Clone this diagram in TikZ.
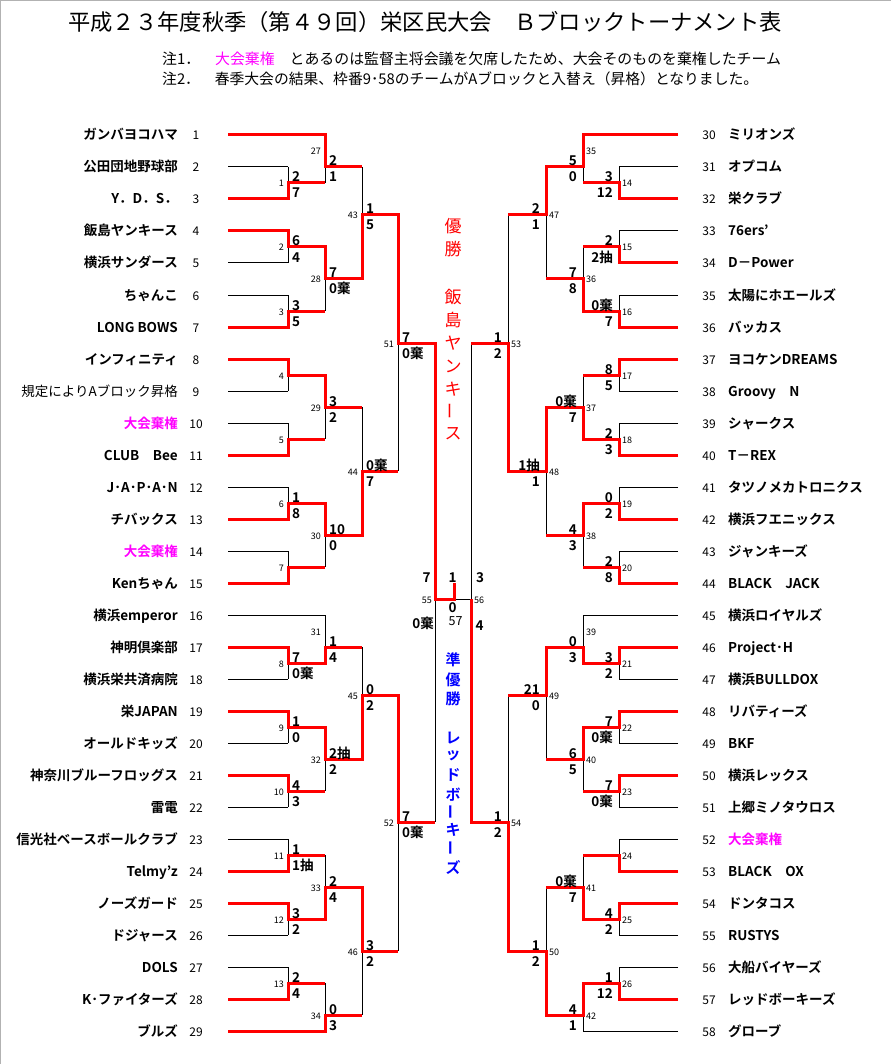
\documentclass[tikz,border=0pt]{standalone}
\usepackage{fontspec}
\setmainfont{Noto Sans CJK JP}[BoldFont={Noto Sans CJK JP Bold}]
\definecolor{mag}{RGB}{255,0,255}
\definecolor{rd}{RGB}{255,0,0}
\definecolor{bl}{RGB}{0,0,255}
\tikzset{
 bk/.style={line width=1pt, black},
 win/.style={line width=3pt, rd, line join=miter},
 sc/.style={font=\fontsize{13.5}{13.5}\selectfont\bfseries, inner sep=0pt},
 mn/.style={font=\fontsize{9}{9}\selectfont, inner sep=0pt},
 tn/.style={font=\fontsize{13.5}{13.5}\selectfont\bfseries, inner sep=0pt},
 tnum/.style={font=\fontsize{12}{12}\selectfont, inner sep=0pt},
 vred/.style={font=\fontsize{17}{17}\selectfont, text=rd, inner sep=0pt},
 vblue/.style={font=\fontsize{15}{15}\selectfont\bfseries, text=bl, inner sep=0pt},
}
\newcommand\bmatch[5]{\draw[bk] (#1,#2) -- (#1,#3); \draw[bk] (#1,#4) -- (#5,#4);}
\newcommand\lsc[4]{\node[sc,anchor=base west] at (#1+4,#2-1) {#3}; \node[sc,anchor=base west] at (#1+4,#2+15) {#4};}
\newcommand\rsc[4]{\node[sc,anchor=base east] at (#1-6,#2-1) {#3}; \node[sc,anchor=base east] at (#1-6,#2+15) {#4};}
\newcommand\lnum[3]{\node[mn,anchor=base east] at (#1-4,#2+4) {#3};}
\newcommand\rnum[3]{\node[mn,anchor=base west] at (#1+3,#2+4) {#3};}
\newcommand\lteam[3]{\node[tn,anchor=base east] at (178,#1+5) {#3}; \node[tnum,anchor=base] at (196,#1+5) {#2};}
\newcommand\rteam[3]{\node[tn,anchor=base west] at (728,#1+5) {#3}; \node[tnum,anchor=base] at (709,#1+5) {#2};}
\begin{document}
\begin{tikzpicture}[x=1pt,y=-1pt]
\useasboundingbox (0,0) rectangle (891,1064);
\fill[white] (0,0) rectangle (891,1064);
\draw[line width=2pt, gray!60] (0,1064) -- (0,0) -- (891,0);
% title and notes
\node[font=\fontsize{22.3}{22.3}\selectfont, inner sep=0pt] (title) at (425,22) {平成２３年度秋季（第４９回）栄区民大会　Ｂブロックトーナメント表};
\node[font=\fontsize{14.9}{14.9}\selectfont, inner sep=0pt, anchor=base west] (note1) at (162,65) {注1．　\textcolor{mag}{大会棄権}　とあるのは監督主将会議を欠席したため、大会そのものを棄権したチーム};
\node[font=\fontsize{14.8}{14.8}\selectfont, inner sep=0pt, anchor=base west] (note2) at (162,85) {注2．　春季大会の結果、枠番9･58のチームがAブロックと入替え（昇格）となりました。};
% team lines
\foreach \y in {167,199,231,263,295,327,359,391,423,455,487,519,551,583,647,679,711,743,775,807,839,871,903,935,967,999} {\draw[bk] (228,\y) -- (288,\y); \draw[bk] (678,\y) -- (619,\y);}
\foreach \y in {135,615,1031} {\draw[bk] (228,\y) -- (325,\y); \draw[bk] (678,\y) -- (583,\y);}
% round 1
\foreach \a/\b/\o in {167/199/183,231/263/247,295/327/311,359/391/375,423/455/439,487/519/503,551/583/567,647/679/663,711/743/727,775/807/791,839/871/855,903/935/919,967/999/983} {\bmatch{288}{\a}{\b}{\o}{325} \bmatch{619}{\a}{\b}{\o}{583}}
% round 2
\foreach \a/\b/\o in {135/183/167,247/311/279,375/439/407,503/567/535,615/663/647,727/791/759,855/919/887,983/1031/1015} {\bmatch{325}{\a}{\b}{\o}{362} \bmatch{583}{\a}{\b}{\o}{546}}
% round 3
\foreach \a/\b/\o in {167/279/215,407/535/471,647/759/695,887/1015/951} {\bmatch{362}{\a}{\b}{\o}{398} \bmatch{546}{\a}{\b}{\o}{508}}
% round 4
\foreach \a/\b/\o in {215/471/343,695/951/822} {\bmatch{398}{\a}{\b}{\o}{435} \bmatch{508}{\a}{\b}{\o}{471}}
% final
\draw[bk] (435,343) -- (435,822); \draw[bk] (471,343) -- (471,822); \draw[bk] (435,599) -- (471,599);
% winners left
\draw[win] (228,135) -- (325,135) -- (325,167) -- (362,167);
\draw[win] (228,199) -- (288,199) -- (288,183) -- (325,183);
\draw[win] (228,231) -- (288,231) -- (288,247) -- (325,247) -- (325,279) -- (362,279) -- (362,215) -- (398,215) -- (398,343) -- (435,343) -- (435,599) -- (454,599) -- (454,583);
\draw[win] (228,327) -- (288,327) -- (288,311) -- (325,311);
\draw[win] (228,359) -- (288,359) -- (288,375) -- (325,375) -- (325,407) -- (362,407);
\draw[win] (228,455) -- (288,455) -- (288,439) -- (325,439);
\draw[win] (228,519) -- (288,519) -- (288,503) -- (325,503) -- (325,535) -- (362,535) -- (362,471) -- (398,471);
\draw[win] (228,583) -- (288,583) -- (288,567) -- (325,567);
\draw[win] (228,647) -- (288,647) -- (288,663) -- (325,663) -- (325,647) -- (362,647);
\draw[win] (228,711) -- (288,711) -- (288,727) -- (325,727) -- (325,759) -- (362,759) -- (362,695) -- (398,695) -- (398,822) -- (435,822);
\draw[win] (228,775) -- (288,775) -- (288,791) -- (325,791);
\draw[win] (228,871) -- (288,871) -- (288,855) -- (325,855);
\draw[win] (228,903) -- (288,903) -- (288,919) -- (325,919) -- (325,887) -- (362,887) -- (362,951) -- (398,951);
\draw[win] (228,999) -- (288,999) -- (288,983) -- (325,983);
\draw[win] (228,1031) -- (325,1031) -- (325,1015) -- (362,1015);
% winners right
\draw[win] (678,135) -- (583,135) -- (583,167) -- (546,167) -- (546,215) -- (508,215);
\draw[win] (678,199) -- (619,199) -- (619,183) -- (583,183);
\draw[win] (678,263) -- (619,263) -- (619,247) -- (583,247);
\draw[win] (678,327) -- (619,327) -- (619,311) -- (583,311) -- (583,279) -- (546,279);
\draw[win] (678,359) -- (619,359) -- (619,375) -- (583,375);
\draw[win] (678,455) -- (619,455) -- (619,439) -- (583,439) -- (583,407) -- (546,407) -- (546,471) -- (508,471) -- (508,343) -- (471,343);
\draw[win] (678,519) -- (619,519) -- (619,503) -- (583,503) -- (583,535) -- (546,535);
\draw[win] (678,583) -- (619,583) -- (619,567) -- (583,567);
\draw[win] (678,647) -- (619,647) -- (619,663) -- (583,663) -- (583,647) -- (546,647) -- (546,695) -- (508,695);
\draw[win] (678,711) -- (619,711) -- (619,727) -- (583,727) -- (583,759) -- (546,759);
\draw[win] (678,775) -- (619,775) -- (619,791) -- (583,791);
\draw[win] (678,871) -- (619,871) -- (619,855) -- (583,855);
\draw[win] (678,903) -- (619,903) -- (619,919) -- (583,919) -- (583,887) -- (546,887);
\draw[win] (678,999) -- (619,999) -- (619,983) -- (583,983) -- (583,1015) -- (546,1015) -- (546,951) -- (508,951) -- (508,822) -- (471,822) -- (471,599);
% scores left
\foreach \x/\o/\t/\b in {288/183/2/7,288/247/6/4,288/311/3/5,288/503/1/8,288/663/7/0棄,288/727/1/0,288/791/4/3,288/855/1/1抽,288/919/3/2,288/983/2/4,325/167/2/1,325/279/7/0棄,325/407/3/2,325/535/10/0,325/647/1/4,325/759/2抽/2,325/887/2/4,325/1015/0/3,362/215/1/5,362/471/0棄/7,362/695/0/2,362/951/3/2,398/343/7/0棄,398/822/7/0棄} {\lsc{\x}{\o}{\t}{\b}}
% scores right
\foreach \x/\o/\t/\b in {619/183/3/12,619/247/2/2抽,619/311/0棄/7,619/375/8/5,619/439/2/3,619/503/0/2,619/567/2/8,619/663/3/2,619/727/7/0棄,619/791/7/0棄,619/919/4/2,619/983/1/12,583/167/5/0,583/279/7/8,583/407/0棄/7,583/535/4/3,583/647/0/3,583/759/6/5,583/887/0棄/7,583/1015/4/1,546/215/2/1,546/471/1抽/1,546/695/21/0,546/951/1/2,508/343/1/2,508/822/1/2} {\rsc{\x}{\o}{\t}{\b}}
% match numbers
\foreach \x/\o/\n in {288/183/1,288/247/2,288/311/3,288/375/4,288/439/5,288/503/6,288/567/7,288/663/8,288/727/9,288/791/10,288/855/11,288/919/12,288/983/13,325/151/27,325/279/28,325/407/29,325/535/30,325/631/31,325/759/32,325/887/33,325/1015/34,362/215/43,362/471/44,362/695/45,362/951/46,398/343/51,398/822/52} {\lnum{\x}{\o}{\n}}
\foreach \x/\o/\n in {619/183/14,619/247/15,619/311/16,619/375/17,619/439/18,619/503/19,619/567/20,619/663/21,619/727/22,619/791/23,619/855/24,619/919/25,619/983/26,583/151/35,583/279/36,583/407/37,583/535/38,583/631/39,583/759/40,583/887/41,583/1015/42,546/215/47,546/471/48,546/695/49,546/951/50,508/343/53,508/822/54} {\rnum{\x}{\o}{\n}}
% final labels
\node[sc,anchor=base] (f7) at (426.5,582) {7};
\node[sc,anchor=base] (f1) at (452.5,582) {1};
\node[sc,anchor=base] (f3) at (480,582) {3};
\node[sc,anchor=base] (f0) at (452.5,612) {0};
\node[font=\fontsize{12.5}{12.5}\selectfont, inner sep=0pt, anchor=base] (f57) at (455.5,625) {57};
\node[sc,anchor=base] (f4) at (479.5,630) {4};
\node[sc,anchor=base east] (fk) at (434,628) {0棄};
\node[mn,anchor=base east] (f55) at (432,603) {55};
\node[mn,anchor=base west] (f56) at (474,603) {56};
% champion texts
\foreach \c/\y in {優/226,勝/249,飯/297,島/320,ヤ/343,ン/366,キ/389,ス/434} {\node[vred] at (453,\y) {\c};}
\node[vred,rotate=90] at (453,411) {ー};
\foreach \c/\y in {準/660,優/680,勝/699,レ/738,ッ/756,ド/775,ボ/795,キ/830,ズ/868} {\node[vblue] at (453,\y) {\c};}
\node[vblue,rotate=90] at (453,812) {ー};
\node[vblue,rotate=90] at (453,848) {ー};
% teams left
\lteam{135}{1}{ガンバヨコハマ}
\lteam{167}{2}{公田団地野球部}
\lteam{199}{3}{Y．D．S．}
\lteam{231}{4}{飯島ヤンキース}
\lteam{263}{5}{横浜サンダース}
\lteam{295}{6}{ちゃんこ}
\lteam{327}{7}{LONG BOWS}
\lteam{359}{8}{インフィニティ}
\lteam{391}{9}{\mdseries 規定によりAブロック昇格}
\lteam{423}{10}{\textcolor{mag}{大会棄権}}
\lteam{455}{11}{CLUB　Bee}
\lteam{487}{12}{J･A･P･A･N}
\lteam{519}{13}{チバックス}
\lteam{551}{14}{\textcolor{mag}{大会棄権}}
\lteam{583}{15}{Kenちゃん}
\lteam{615}{16}{横浜emperor}
\lteam{647}{17}{神明倶楽部}
\lteam{679}{18}{横浜栄共済病院}
\lteam{711}{19}{栄JAPAN}
\lteam{743}{20}{オールドキッズ}
\lteam{775}{21}{神奈川ブルーフロッグス}
\lteam{807}{22}{雷電}
\lteam{839}{23}{信光社ベースボールクラブ}
\lteam{871}{24}{Telmy’z}
\lteam{903}{25}{ノーズガード}
\lteam{935}{26}{ドジャース}
\lteam{967}{27}{DOLS}
\lteam{999}{28}{K･ファイターズ}
\lteam{1031}{29}{ブルズ}
% teams right
\rteam{135}{30}{ミリオンズ}
\rteam{167}{31}{オプコム}
\rteam{199}{32}{栄クラブ}
\rteam{231}{33}{76ers’}
\rteam{263}{34}{D－Power}
\rteam{295}{35}{太陽にホエールズ}
\rteam{327}{36}{バッカス}
\rteam{359}{37}{ヨコケンDREAMS}
\rteam{391}{38}{Groovy　N}
\rteam{423}{39}{シャークス}
\rteam{455}{40}{T－REX}
\rteam{487}{41}{タツノメカトロニクス}
\rteam{519}{42}{横浜フエニックス}
\rteam{551}{43}{ジャンキーズ}
\rteam{583}{44}{BLACK　JACK}
\rteam{615}{45}{横浜ロイヤルズ}
\rteam{647}{46}{Project･H}
\rteam{679}{47}{横浜BULLDOX}
\rteam{711}{48}{リバティーズ}
\rteam{743}{49}{BKF}
\rteam{775}{50}{横浜レックス}
\rteam{807}{51}{上郷ミノタウロス}
\rteam{839}{52}{\textcolor{mag}{大会棄権}}
\rteam{871}{53}{BLACK　OX}
\rteam{903}{54}{ドンタコス}
\rteam{935}{55}{RUSTYS}
\rteam{967}{56}{大船バイヤーズ}
\rteam{999}{57}{レッドボーキーズ}
\rteam{1031}{58}{グローブ}
\end{tikzpicture}
\end{document}
